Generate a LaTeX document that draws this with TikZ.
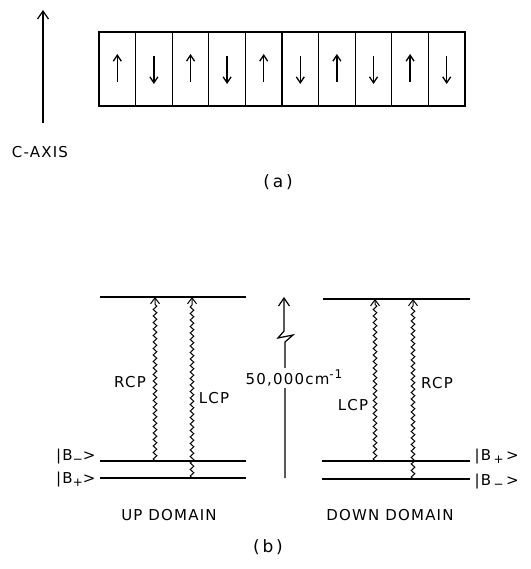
\documentclass[tikz,border=0pt]{standalone}
\usepackage{fontspec}
\setmainfont{DejaVu Sans}[LetterSpace=8]
\usetikzlibrary{arrows.meta,decorations.pathmorphing}
\newcommand{\subsz}{\fontsize{12}{12}\selectfont}
\begin{document}
\begin{tikzpicture}[x=1pt,y=-1pt,line width=1.2pt,
  every node/.style={font=\fontsize{15}{17}\selectfont, inner sep=1pt},
  biglab/.style={font=\fontsize{17}{19}\selectfont},
  bigtip/.style={-{Straight Barb[length=8pt,width=11pt,line width=1.2pt]}},
  smalltip/.style={-{Straight Barb[length=6pt,width=8pt,line width=1.3pt]}, line width=1.3pt},
  wave/.style={decorate,decoration={snake,amplitude=1.8pt,segment length=6.5pt,post length=5pt},
     -{Straight Barb[length=6pt,width=9pt,line width=1pt]}, line width=1pt},
  cell/.style={draw, minimum width=36.6pt, minimum height=74pt, inner sep=0pt},
  level/.style={line width=1.2pt}]
\useasboundingbox (0,0) rectangle (530,569);
% ---------- (a) ----------
\coordinate (cb) at (43,123);
\coordinate (ct) at (43,10);
\draw[bigtip] (cb) -- (ct);
\node (caxis) at (40,152) {C-AXIS};
\foreach \i in {1,...,10} {
  \node[cell] (c\i) at ({99+36.6*(\i-0.5)},69) {};
}
\foreach \i in {1,3,5,7,9} {
  \draw[smalltip] ([yshift=-13pt]c\i.center) -- ([yshift=15pt]c\i.center);
}
\foreach \i in {2,4,6,8,10} {
  \draw[smalltip] ([yshift=13pt]c\i.center) -- ([yshift=-15pt]c\i.center);
}
\node[biglab] (alab) at (278,182) {(\,a\,)};
% ---------- (b) left ----------
\coordinate (lt1) at (100,297); \coordinate (lt2) at (246,297);
\coordinate (lm1) at (100,461); \coordinate (lm2) at (246,461);
\coordinate (lb1) at (100,478); \coordinate (lb2) at (246,478);
\draw[level] (lt1) -- (lt2);
\draw[level] (lm1) -- (lm2);
\draw[level] (lb1) -- (lb2);
\coordinate (lrb) at (155,461); \coordinate (lrt) at (155,297);
\coordinate (llb) at (192,478); \coordinate (llt) at (192,297);
\draw[wave] (lrb) -- (lrt);
\draw[wave] (llb) -- (llt);
\node (lrcp) at (130,382) {RCP};
\node (llcp) at (214,398) {LCP};
\node[anchor=east] (lbm) at (97,457) {|B\raisebox{-0.25ex}{\subsz −}>};
\node[anchor=east] (lbp) at (97,480) {|B\raisebox{-0.35ex}{\subsz +}>};
\node (up) at (169,515) {UP DOMAIN};
% ---------- middle arrow ----------
\coordinate (mb) at (285,478);
\coordinate (mt) at (284,297);
\draw[bigtip] (mb) -- (285,342) -- (293,335) -- (278,338) -- (284,331) -- (mt);
\node[fill=white, inner sep=1.5pt] (energy) at (294,378) {50,000cm\raisebox{0.8ex}{\subsz -1}};
% ---------- (b) right ----------
\coordinate (rt1) at (323,299); \coordinate (rt2) at (470,299);
\coordinate (rm1) at (322,461); \coordinate (rm2) at (470,461);
\coordinate (rb1) at (322,479); \coordinate (rb2) at (470,479);
\draw[level] (rt1) -- (rt2);
\draw[level] (rm1) -- (rm2);
\draw[level] (rb1) -- (rb2);
\coordinate (rlb) at (375,461); \coordinate (rlt) at (375,299);
\coordinate (rrb) at (413,479); \coordinate (rrt) at (413,299);
\draw[wave] (rlb) -- (rlt);
\draw[wave] (rrb) -- (rrt);
\node (rlcp) at (353,405) {LCP};
\node (rrcp) at (437,383) {RCP};
\node[anchor=west] (rbp) at (473,457) {|B\,\raisebox{-0.35ex}{\subsz +}\,>};
\node[anchor=west] (rbm) at (473,482) {|B\,\raisebox{-0.25ex}{\subsz −}\,>};
\node (down) at (390,515) {DOWN DOMAIN};
\node[biglab] (blab) at (268,547) {(\,b\,)};
\end{tikzpicture}
\end{document}
